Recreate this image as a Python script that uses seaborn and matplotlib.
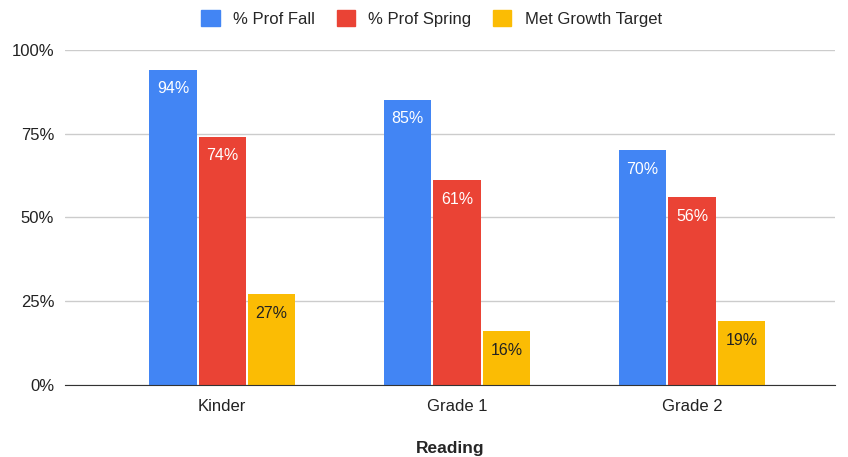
import pandas as pd
import seaborn as sns
import matplotlib.pyplot as plt
from matplotlib.ticker import PercentFormatter

grades = ["Kinder", "Grade 1", "Grade 2"]
series = ["% Prof Fall", "% Prof Spring", "Met Growth Target"]
prof_fall = [0.94, 0.85, 0.70]
prof_spring = [0.74, 0.61, 0.56]
met_growth = [0.27, 0.16, 0.19]
colors = ["#4285F4", "#EA4335", "#FBBC04"]
label_colors = ["white", "white", "#222222"]

df = pd.DataFrame({
    "grade": grades * 3,
    "series": [s for s in series for _ in grades],
    "value": prof_fall + prof_spring + met_growth,
})

sns.set_style("white")
plt.rcParams["font.family"] = ["Liberation Sans", "DejaVu Sans"]

fig = plt.figure(figsize=(8.48, 4.57), dpi=100)
ax = fig.add_axes([0.077, 0.158, 0.908, 0.733])

sns.barplot(data=df, x="grade", y="value", hue="series", palette=colors,
            saturation=1, width=0.63, gap=0.04, linewidth=0, ax=ax, legend=False)

for container, lc in zip(ax.containers, label_colors):
    ax.bar_label(container, labels=[f"{v:.0%}" for v in container.datavalues],
                 label_type="edge", padding=-19, color=lc, fontsize=11.5)

ax.set_ylim(0, 1)
ax.set_xlim(-0.668, 2.61)
ax.yaxis.set_major_formatter(PercentFormatter(1.0, decimals=0))
ax.set_yticks([0, 0.25, 0.5, 0.75, 1.0])
ax.grid(axis="y", color="#cccccc", linewidth=1)
ax.set_axisbelow(True)
for side in ["top", "right", "left"]:
    ax.spines[side].set_visible(False)
ax.spines["bottom"].set_color("#333333")
ax.tick_params(axis="x", length=0, labelsize=12, colors="#222222", pad=10)
ax.tick_params(axis="y", length=0, labelsize=12, colors="#222222", pad=8)
ax.set_ylabel("")
ax.set_xlabel("Reading", fontsize=12.5, fontweight="bold", labelpad=20)

handles = [plt.Rectangle((0, 0), 1, 1, color=c) for c in colors]
fig.legend(handles, series, loc="upper center", bbox_to_anchor=(0.509, 1.01),
           ncol=3, frameon=False, fontsize=12, handlelength=1.1,
           handleheight=1.1, columnspacing=1.3, handletextpad=0.8)

fig.savefig("out.png", dpi=100)
